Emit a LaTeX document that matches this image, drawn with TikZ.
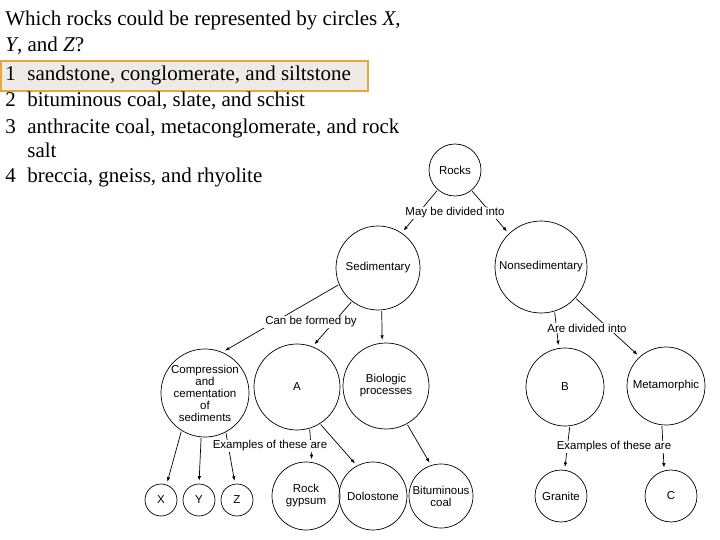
\documentclass[tikz,border=0pt]{standalone}
\usepackage{fontspec}
\setmainfont{Liberation Serif}
\setsansfont{Liberation Sans}
\usetikzlibrary{arrows.meta}
\definecolor{boxorange}{HTML}{E8A640}
\definecolor{boxfill}{HTML}{EEEBE6}
\begin{document}
\begin{tikzpicture}[x=1pt, y=-1pt, line width=0.7pt, >={Latex[length=4.5pt,width=3.5pt]}, shorten >=3pt, shorten <=1pt,
main node/.style={circle,draw,inner sep=0pt,align=center,font=\sffamily\fontsize{11.5}{12}\selectfont},
label node/.style={fill=white,inner sep=1pt,font=\sffamily\fontsize{11.5}{12}\selectfont},
question/.style={anchor=base west,inner sep=0pt,font=\fontsize{21}{26}\selectfont}]
\useasboundingbox (0,0) rectangle (720,540);
\fill[white] (0,0) rectangle (720,540);
\draw[draw=boxorange, fill=boxfill, line width=1.5pt] (0.75,61) rectangle (368,91);
\begin{scope}
\node[question] (q1) at (5,26) {Which rocks could be represented by circles \textit{X},};
\node[question] (q2) at (5,52) {\textit{Y}, and \textit{Z}?};
\node[question] (n1) at (5,81) {1};
\node[question] (a1) at (27,81) {sandstone, conglomerate, and siltstone};
\node[question] (n2) at (5,107) {2};
\node[question] (a2) at (27,107) {bituminous coal, slate, and schist};
\node[question] (n3) at (5,134) {3};
\node[question] (a3) at (27,134) {anthracite coal, metaconglomerate, and rock};
\node[question] (a3b) at (27,158) {salt};
\node[question] (n4) at (5,183) {4};
\node[question] (a4) at (27,183) {breccia, gneiss, and rhyolite};
\end{scope}
\begin{scope}
\node[main node, minimum size=52pt] (rocks) at (455,170) {Rocks};
\node[main node, minimum size=84pt] (sed) at (378,268) {Sedimentary};
\node[main node, minimum size=92pt] (nonsed) at (541,267) {Nonsedimentary};
\node[main node, minimum size=80pt] (comp) at (205,393) {Compression\\and\\cementation\\of\\sediments};
\node[main node, minimum size=86pt] (a) at (297,387) {A};
\node[main node, minimum size=86pt] (bio) at (386,386) {Biologic\\processes};
\node[main node, minimum size=32pt] (x) at (161,500) {X};
\node[main node, minimum size=32pt] (y) at (199,500) {Y};
\node[main node, minimum size=32pt] (z) at (237,500) {Z};
\node[main node, minimum size=68pt] (gyp) at (306,496) {Rock\\gypsum};
\node[main node, minimum size=68pt] (dol) at (373,496) {Dolostone};
\node[main node, minimum size=64pt] (bit) at (441,496) {Bituminous\\coal};
\node[main node, minimum size=78pt] (b) at (565,387) {B};
\node[main node, minimum size=78pt] (meta) at (666,386) {Metamorphic};
\node[main node, minimum size=52pt] (gra) at (561,496) {Granite};
\node[main node, minimum size=52pt] (c) at (671,496) {C};
\end{scope}
\begin{scope}
\draw[->] (rocks.229) -- (sed.56);
\draw[->] (rocks.-51) -- (nonsed.134);
\draw[->] (sed.203) -- (comp.67);
\draw[->] (sed.232) -- (a.69);
\draw[->] (sed.-85) -- (bio.95);
\draw[->] (comp.-122) -- (x.70);
\draw[->] (comp.-95) -- (y.90);
\draw[->] (comp.-62) -- (z.97);
\draw[->] (a.-73) -- (gyp.80);
\draw[->] (a.-58) -- (dol.118);
\draw[->] (bio.-61) -- (bit.108);
\draw[->] (nonsed.-73) -- (b.99);
\draw[->] (nonsed.-42) -- (meta.132);
\draw[->] (b.-83) -- (gra.82);
\draw[->] (meta.-96) -- (c.105);
\end{scope}
\begin{scope}
\node[label node] (l1) at (455,213) {May be divided into};
\node[label node] (l2) at (311,322) {Can be formed by};
\node[label node] (l3) at (270,446) {Examples of these are};
\node[label node] (l4) at (587,328) {Are divided into};
\node[label node] (l5) at (614,447) {Examples of these are};
\end{scope}
\end{tikzpicture}
\end{document}
